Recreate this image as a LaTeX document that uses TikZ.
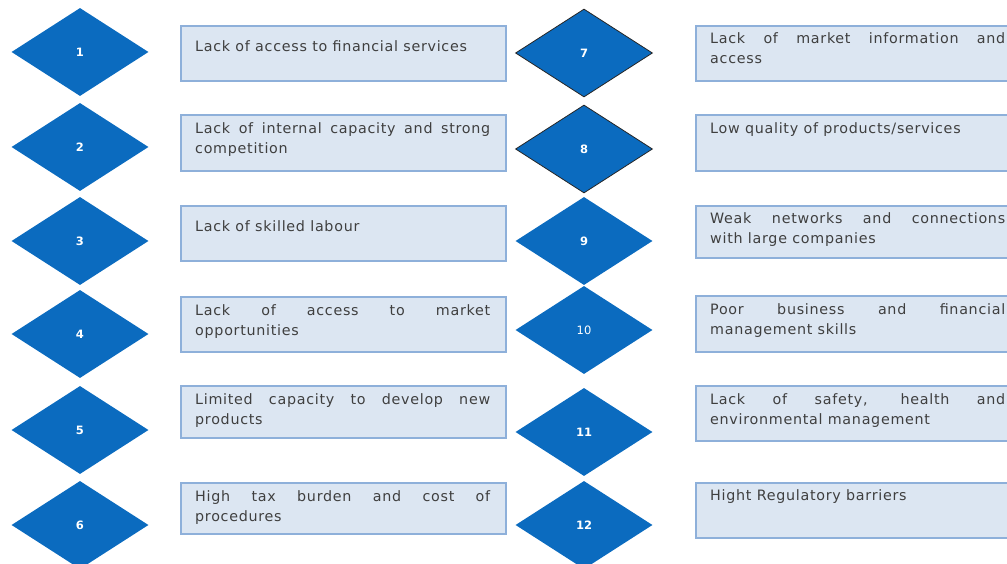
\documentclass[tikz,border=0pt]{standalone}
\usepackage{fontspec}
\usetikzlibrary{shapes.geometric}
\newfontfamily\cardfont{DejaVu Sans}[LetterSpace=5]
\newfontfamily\tagfont{DejaVu Sans}
\definecolor{tagblue}{HTML}{0B6BBF}
\definecolor{cardfill}{HTML}{DCE6F2}
\definecolor{cardline}{HTML}{8EB0DA}
\definecolor{inkgray}{HTML}{3F3F3F}
\begin{document}
\begin{tikzpicture}[
  x=1pt, y=-1pt,
  tag/.style={diamond, fill=tagblue, draw=none, minimum width=137pt,
    minimum height=88pt, inner sep=0pt, text=white,
    font=\tagfont\bfseries\fontsize{11.5}{13}\selectfont},
  tagrim/.style={tag, draw=black!85, line width=0.8pt},
  card/.style={rectangle, fill=cardfill, draw=cardline, line width=1.6pt,
    anchor=north west, minimum width=325pt, inner sep=0pt},
  note/.style={anchor=north west, inner sep=0pt, text width=295pt,
    align=justify, text=inkgray,
    font=\cardfont\fontsize{14.3}{20.5}\selectfont,
    execute at begin node={\hyphenpenalty=10000\tolerance=10000}},
]
\useasboundingbox (0,0) rectangle (1007,564);
\begin{scope}
\clip (0,0) rectangle (1007,564);

% left column: numbered diamonds
\node[tag] (t1) at (80,52)  {1};
\node[tag] (t2) at (80,147) {2};
\node[tag] (t3) at (80,241) {3};
\node[tag] (t4) at (80,334) {4};
\node[tag] (t5) at (80,430) {5};
\node[tag] (t6) at (80,525) {6};

% right column: numbered diamonds
\node[tagrim] (t7)  at (584,53)  {7};
\node[tagrim] (t8)  at (584,149) {8};
\node[tag]    (t9)  at (584,241) {9};
\node[tag, font=\tagfont\fontsize{11.5}{13}\selectfont] (t10) at (584,330) {10};
\node[tag]    (t11) at (584,432) {11};
\node[tag]    (t12) at (584,525) {12};

% left column: text cards
\node[card, minimum height=55pt] (c1) at (180,25)  {};
\node[card, minimum height=56pt] (c2) at (180,114) {};
\node[card, minimum height=55pt] (c3) at (180,205) {};
\node[card, minimum height=55pt] (c4) at (180,296) {};
\node[card, minimum height=52pt] (c5) at (180,385) {};
\node[card, minimum height=51pt] (c6) at (180,482) {};

% right column: text cards (running past the right edge)
\node[card, minimum height=55pt] (c7)  at (695,25)  {};
\node[card, minimum height=56pt] (c8)  at (695,114) {};
\node[card, minimum height=52pt] (c9)  at (695,205) {};
\node[card, minimum height=56pt] (c10) at (695,295) {};
\node[card, minimum height=55pt] (c11) at (695,385) {};
\node[card, minimum height=55pt] (c12) at (695,482) {};

% card texts
\node[note] (n1) at ([shift={(15,15)}]c1.north west) {Lack of access to financial services};
\node[note] (n2) at ([shift={(15,8)}]c2.north west) {Lack of internal capacity and strong\linebreak competition};
\node[note] (n3) at ([shift={(15,15)}]c3.north west) {Lack of skilled labour};
\node[note] (n4) at ([shift={(15,8)}]c4.north west) {Lack of access to market\linebreak opportunities};
\node[note] (n5) at ([shift={(15,8)}]c5.north west) {Limited capacity to develop new\linebreak products};
\node[note] (n6) at ([shift={(15,8)}]c6.north west) {High tax burden and cost of\linebreak procedures};

\node[note] (n7)  at ([shift={(15,7)}]c7.north west)  {Lack of market information and\linebreak access};
\node[note] (n8)  at ([shift={(15,8)}]c8.north west)  {Low quality of products/services};
\node[note] (n9)  at ([shift={(15,7)}]c9.north west)  {Weak networks and connections\linebreak with large companies};
\node[note] (n10) at ([shift={(15,8)}]c10.north west) {Poor business and financial\linebreak management skills};
\node[note] (n11) at ([shift={(15,8)}]c11.north west) {Lack of safety, health and\linebreak environmental management};
\node[note] (n12) at ([shift={(15,7)}]c12.north west) {Hight Regulatory barriers};
\end{scope}
\end{tikzpicture}
\end{document}
